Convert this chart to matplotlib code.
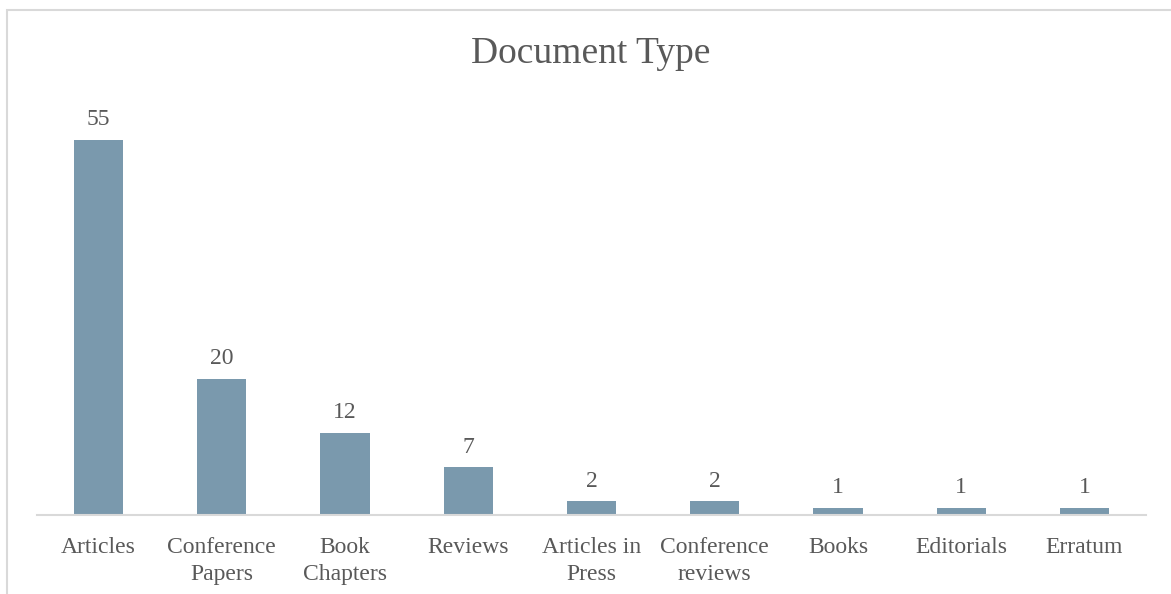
import matplotlib
matplotlib.use('Agg')
import matplotlib.pyplot as plt
from matplotlib.patches import Rectangle

# datos del grafico
tipos = ['Articles', 'Conference\nPapers', 'Book\nChapters', 'Reviews', 'Articles in\nPress',
         'Conference\nreviews', 'Books', 'Editorials', 'Erratum']
cantidad = [55, 20, 12, 7, 2, 2, 1, 1, 1]

gris = '#595959'
plt.rcParams['font.family'] = ['Liberation Serif', 'DejaVu Serif']

fig = plt.figure(figsize=(11.71, 5.94), dpi=100)

# marco del area del grafico
fig.patches.append(Rectangle((7/1171, -0.05), 1.1, 1 - 10/594 + 0.05, transform=fig.transFigure,
                             fill=False, edgecolor='#d9d9d9', linewidth=1.5))

ax = fig.add_axes([37/1171, 1 - 515/594, (1146 - 37)/1171, 425/594])
x = range(len(tipos))
barras = ax.bar(x, cantidad, width=0.4, color='#7a99ad')
ax.set_xlim(-0.5, len(tipos) - 0.5)
ax.set_ylim(0, 62.3)

for xi, v in zip(x, cantidad):
    ax.annotate(str(v), (xi, v), xytext=(0, 7), textcoords='offset points',
                ha='center', va='bottom', fontsize=17, color=gris)

ax.set_xticks(list(x))
ax.set_xticklabels(tipos, fontsize=17, color=gris, linespacing=1.4)
ax.tick_params(axis='x', length=0, pad=15.5)
ax.set_yticks([])
for s in ['top', 'right', 'left']:
    ax.spines[s].set_visible(False)
ax.spines['bottom'].set_color('#d9d9d9')
ax.spines['bottom'].set_linewidth(1.5)

fig.text(591/1171, 1 - 54/594, 'Document Type', ha='center', va='center', fontsize=27, color=gris)

fig.savefig('out.png', dpi=100)
